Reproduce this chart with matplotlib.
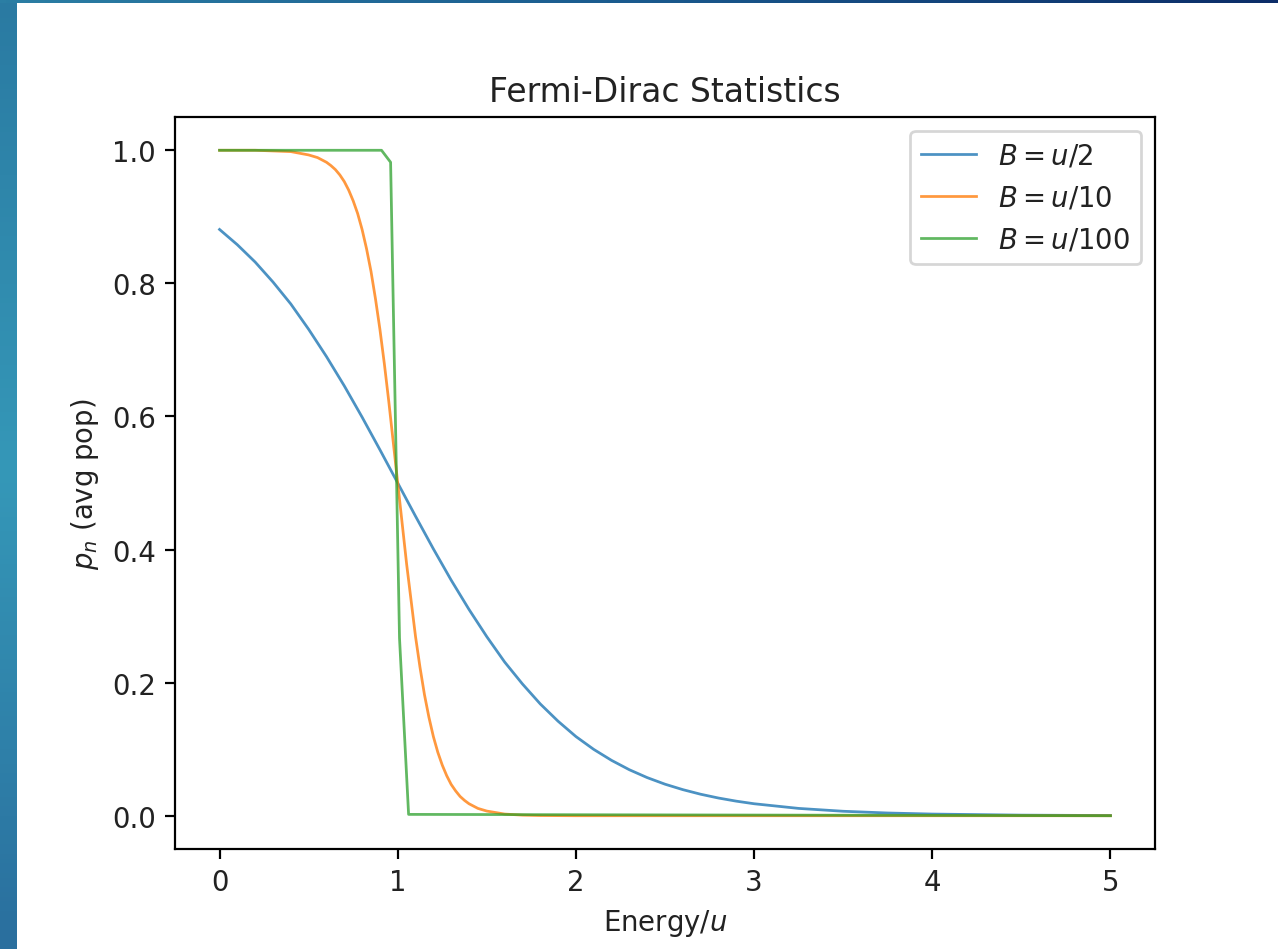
import numpy as np
import matplotlib.pyplot as plt

# energies (in units of u) and average occupation for each temperature
e_half = [0.0, 0.1, 0.2, 0.3, 0.4, 0.5, 0.6, 0.7, 0.8, 0.9, 1.0,
          1.1, 1.2, 1.3, 1.4, 1.5, 1.6, 1.7, 1.8, 1.9, 2.0,
          2.1, 2.2, 2.3, 2.4, 2.5, 2.6, 2.7, 2.8, 2.9, 3.0,
          3.25, 3.5, 3.75, 4.0, 4.5, 5.0]
p_half = [0.881, 0.858, 0.832, 0.802, 0.769, 0.731, 0.690, 0.646, 0.599, 0.550, 0.500,
          0.450, 0.401, 0.354, 0.310, 0.269, 0.231, 0.198, 0.168, 0.142, 0.119,
          0.0997, 0.0832, 0.0691, 0.0573, 0.0474, 0.0392, 0.0323, 0.0266, 0.0219, 0.0180,
          0.0110, 0.0067, 0.0041, 0.0025, 0.0009, 0.0003]

e_tenth = [0.0, 0.2, 0.4, 0.5, 0.55, 0.6, 0.625, 0.65, 0.675, 0.7, 0.725, 0.75, 0.775,
           0.8, 0.825, 0.85, 0.875, 0.9, 0.925, 0.95, 1.0,
           1.05, 1.1, 1.125, 1.15, 1.175, 1.2, 1.225, 1.25, 1.275, 1.3, 1.325, 1.35, 1.375,
           1.4, 1.45, 1.5, 1.6, 1.7, 1.8, 2.0, 5.0]
p_tenth = [1.0, 1.0, 0.998, 0.993, 0.989, 0.982, 0.977, 0.971, 0.963, 0.953, 0.940, 0.924, 0.905,
           0.881, 0.852, 0.818, 0.777, 0.731, 0.679, 0.622, 0.500,
           0.378, 0.269, 0.223, 0.182, 0.148, 0.119, 0.0953, 0.076, 0.0601, 0.047, 0.0373, 0.029, 0.023,
           0.018, 0.011, 0.007, 0.0025, 0.0009, 0.0003, 0.0, 0.0]

e_hundredth = [0.0, 0.909, 0.960, 1.010, 1.061, 5.0]
p_hundredth = [1.0, 1.0, 0.982, 0.267, 0.002, 0.0]

labels = [r'$B = u/2$', r'$B = u/10$', r'$B = u/100$']

W, H = 1278, 950
dpi = 198
fig = plt.figure(figsize=(W / dpi, H / dpi), dpi=dpi, facecolor='white')

# slide border strips
left = fig.add_axes([0, 0, 17 / W, 1])
left.imshow(np.linspace(0, 1, 200).reshape(-1, 1), aspect='auto',
            cmap=plt.matplotlib.colors.LinearSegmentedColormap.from_list(
                'l', ['#2a7aa2', '#3598b8', '#2a6f9e']), extent=[0, 1, 0, 1])
left.axis('off')
top = fig.add_axes([0, 1 - 4 / H, 1, 4 / H])
top.imshow(np.linspace(0, 1, 200).reshape(1, -1), aspect='auto',
           cmap=plt.matplotlib.colors.LinearSegmentedColormap.from_list(
               't', ['#2b7ea4', '#1a5a8e', '#0c2d68']), extent=[0, 1, 0, 1])
top.axis('off')

ax = fig.add_axes([175 / W, 100 / H, 980 / W, 732 / H])
ax.plot(e_half, p_half, color='#1f77b4', alpha=0.8, lw=1.0, label=labels[0])
ax.plot(e_tenth, p_tenth, color='#ff7f0e', alpha=0.8, lw=1.0, label=labels[1])
ax.plot(e_hundredth, p_hundredth, color='#2ca02c', alpha=0.75, lw=1.0, label=labels[2])

ax.set_xticks([0, 1, 2, 3, 4, 5])
ax.set_yticks([0.0, 0.2, 0.4, 0.6, 0.8, 1.0])
ax.tick_params(labelcolor='#222222')
ax.set_xlabel(r'Energy/$u$', color='#222222')
ax.set_ylabel(r'$p_n$ (avg pop)', color='#222222')
ax.set_title('Fermi-Dirac Statistics', color='#222222')
leg = ax.legend(loc='upper right')
for t in leg.get_texts():
    t.set_color('#222222')

fig.savefig('out.png', dpi=dpi, facecolor='white')
